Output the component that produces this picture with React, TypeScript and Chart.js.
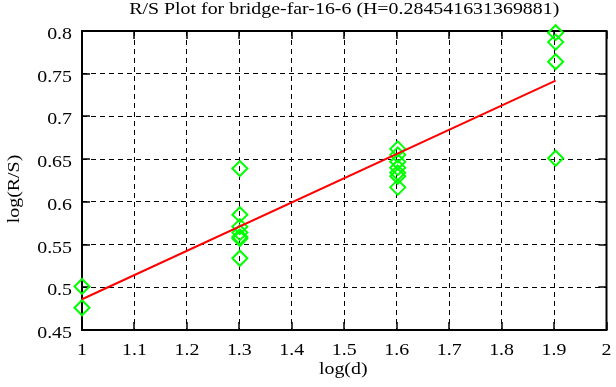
import React, { useEffect, useRef } from "react";
import { Chart, registerables } from "chart.js";

Chart.register(...registerables);

const chartTitle = "R/S Plot for bridge-far-16-6 (H=0.284541631369881)";
const xAxisTitle = "log(d)";
const yAxisTitle = "log(R/S)";

const logD = [
  1, 1,
  1.301, 1.301, 1.301, 1.301, 1.301, 1.301, 1.301,
  1.602, 1.602, 1.602, 1.602, 1.602, 1.602, 1.602,
  1.903, 1.903, 1.903, 1.903,
];
const logRS = [
  0.501, 0.476,
  0.639, 0.585, 0.571, 0.564, 0.559, 0.557, 0.534,
  0.662, 0.655, 0.647, 0.64, 0.634, 0.63, 0.617,
  0.798, 0.787, 0.764, 0.651,
];
const fitD = [1, 1.903];
const fitRS = [0.486, 0.742];

const xTickLabels = ["1", "1.1", "1.2", "1.3", "1.4", "1.5", "1.6", "1.7", "1.8", "1.9", "2"];
const yTickLabels = ["0.45", "0.5", "0.55", "0.6", "0.65", "0.7", "0.75", "0.8"];

const FONT = '17px "Liberation Serif"';
const STRETCH = 1.17;

function drawText(ctx: CanvasRenderingContext2D, text: string, x: number, y: number, align: CanvasTextAlign, rot = 0) {
  ctx.save();
  ctx.translate(x, y);
  if (rot) ctx.rotate(rot);
  ctx.scale(STRETCH, 1);
  ctx.font = FONT;
  ctx.fillStyle = "#000";
  ctx.textAlign = align;
  ctx.textBaseline = "alphabetic";
  ctx.fillText(text, 0, 0);
  ctx.restore();
}

const framePlugin = {
  id: "gnuFrame",
  beforeDatasetsDraw(chart: any) {
    const { ctx, chartArea: a, scales } = chart;
    const xs = scales.x;
    const ys = scales.y;
    ctx.save();
    ctx.strokeStyle = "#000";
    ctx.setLineDash([]);
    ctx.lineWidth = 1.5;
    const tl = 8;
    xs.ticks.forEach((_t: any, i: number) => {
      const px = Math.round(xs.getPixelForTick(i));
      ctx.beginPath();
      ctx.moveTo(px, a.bottom);
      ctx.lineTo(px, a.bottom - tl);
      ctx.moveTo(px, a.top);
      ctx.lineTo(px, a.top + tl);
      ctx.stroke();
    });
    ys.ticks.forEach((_t: any, i: number) => {
      const py = Math.round(ys.getPixelForTick(i));
      ctx.beginPath();
      ctx.moveTo(a.left, py);
      ctx.lineTo(a.left + tl, py);
      ctx.moveTo(a.right, py);
      ctx.lineTo(a.right - tl, py);
      ctx.stroke();
    });
    ctx.lineWidth = 2;
    ctx.strokeRect(a.left, a.top, a.right - a.left, a.bottom - a.top);
    ctx.restore();
  },
  afterDraw(chart: any) {
    const { ctx, chartArea: a, scales } = chart;
    const xs = scales.x;
    const ys = scales.y;
    xs.ticks.forEach((_t: any, i: number) => {
      drawText(ctx, xTickLabels[i] ?? "", xs.getPixelForTick(i), a.bottom + 25, "center");
    });
    ys.ticks.forEach((_t: any, i: number) => {
      drawText(ctx, yTickLabels[i] ?? "", a.left - 10, ys.getPixelForTick(i) + 8, "right");
    });
    const cx = (a.left + a.right) / 2;
    drawText(ctx, chartTitle, cx, 14, "center");
    drawText(ctx, xAxisTitle, cx - 1, 374, "center");
    drawText(ctx, yAxisTitle, 19, 189, "center", -Math.PI / 2);
  },
};

export default function App() {
  const ref = useRef<HTMLCanvasElement | null>(null);
  useEffect(() => {
    document.body.style.margin = "0";
    const canvas = ref.current;
    if (!canvas) return;
    const chart = new Chart(canvas, {
      type: "scatter",
      data: {
        datasets: [
          {
            label: "fit",
            data: fitD.map((x, i) => ({ x, y: fitRS[i] })),
            showLine: true,
            borderColor: "#ff0000",
            borderWidth: 2,
            pointRadius: 0,
            fill: false,
            clip: false,
          },
          {
            label: "R/S",
            data: logD.map((x, i) => ({ x, y: logRS[i] })),
            showLine: false,
            pointStyle: "rectRot",
            pointRadius: 7.5,
            pointBorderColor: "#00ff00",
            pointBackgroundColor: "rgba(0,0,0,0)",
            pointBorderWidth: 2,
            clip: false,
          },
        ],
      },
      options: {
        animation: false,
        responsive: false,
        devicePixelRatio: 1,
        layout: { padding: { top: 31, right: 7, bottom: 0, left: 0 } },
        plugins: {
          legend: { display: false },
          title: { display: false },
          tooltip: { enabled: false },
        },
        scales: {
          x: {
            type: "linear",
            min: 1,
            max: 2,
            ticks: { display: false, stepSize: 0.1 },
            grid: { color: "#000", lineWidth: 1, drawTicks: false },
            border: { display: false, dash: [5, 4] },
            afterFit: (s: any) => {
              s.height = 57;
            },
          },
          y: {
            type: "linear",
            min: 0.45,
            max: 0.8,
            ticks: { display: false, stepSize: 0.05 },
            grid: { color: "#000", lineWidth: 1, drawTicks: false },
            border: { display: false, dash: [5, 4] },
            afterFit: (s: any) => {
              s.width = 82;
            },
          },
        },
      } as any,
      plugins: [framePlugin],
    });
    return () => chart.destroy();
  }, []);
  return (
    <div style={{ width: 616, height: 387, background: "#fff" }}>
      <canvas ref={ref} width={616} height={387} style={{ display: "block" }} />
    </div>
  );
}
